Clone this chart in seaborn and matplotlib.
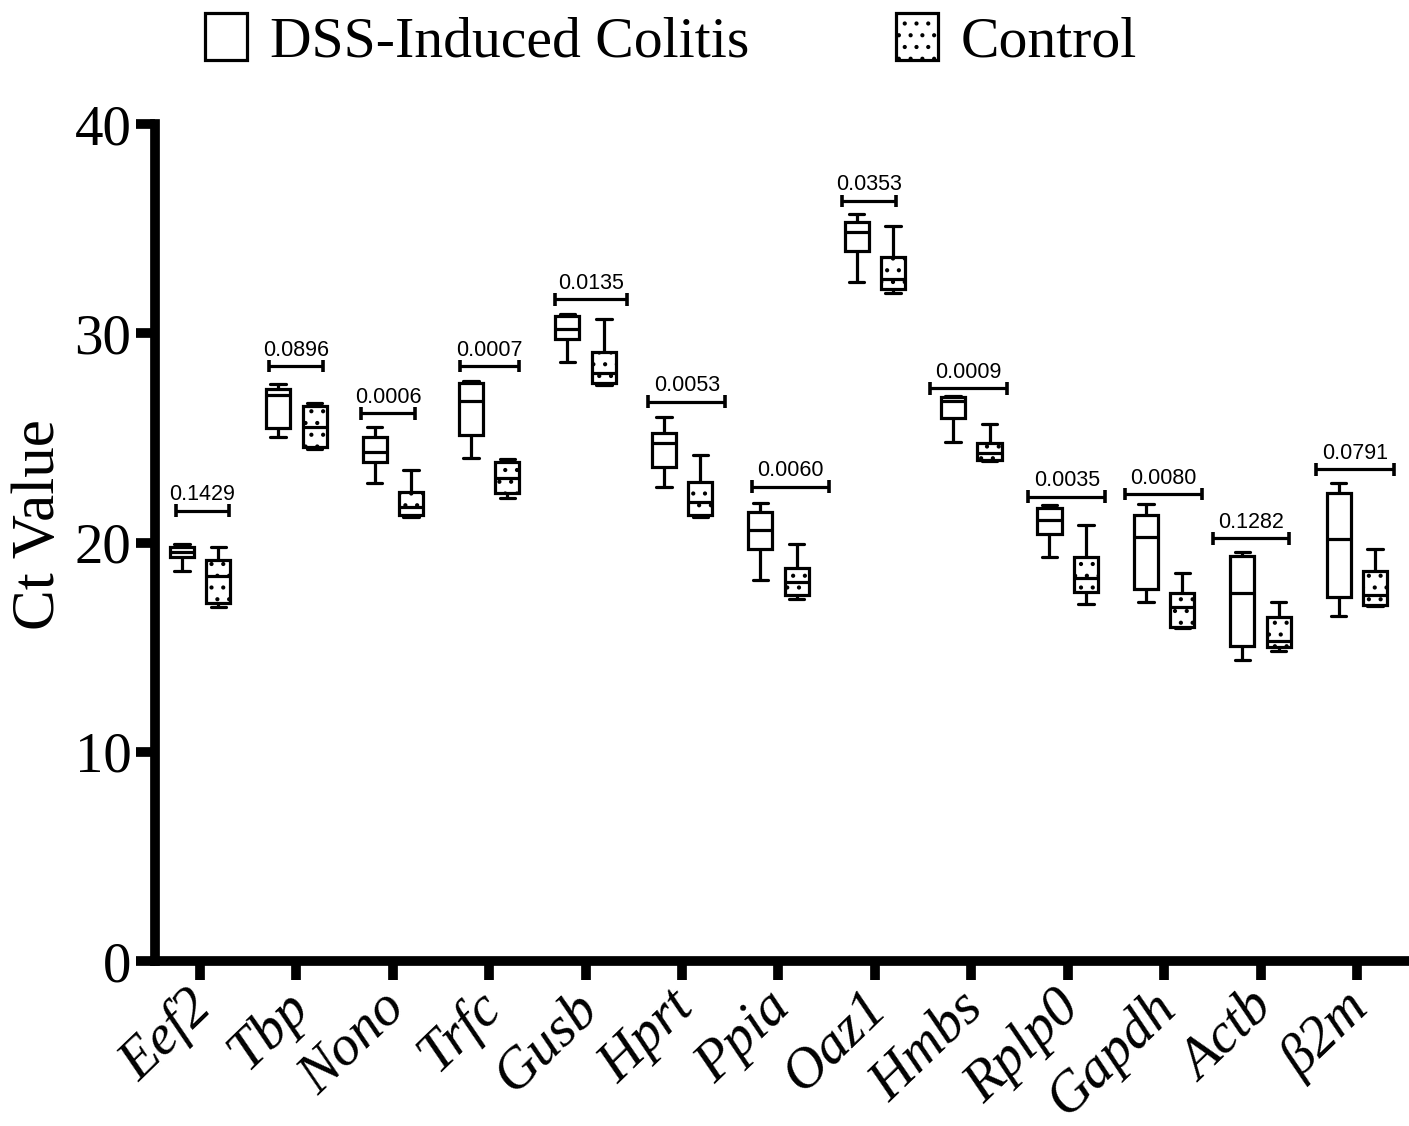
import numpy as np
import pandas as pd
import seaborn as sns
import matplotlib
matplotlib.use("Agg")
import matplotlib.pyplot as plt
from matplotlib.patches import Patch
from matplotlib.transforms import ScaledTranslation

# ------------------------------------------------------------
# data
# ------------------------------------------------------------
genes = ["Eef2", "Tbp", "Nono", "Trfc", "Gusb", "Hprt", "Ppia",
         "Oaz1", "Hmbs", "Rplp0", "Gapdh", "Actb", "β2m"]
groups = ["DSS-Induced Colitis", "Control"]

# five numbers per box: min, q1, median, q3, max
dss_ct = [
    [18.65, 19.32, 19.56, 19.80, 19.93],
    [25.03, 25.46, 27.05, 27.32, 27.60],
    [22.86, 23.86, 24.34, 25.06, 25.53],
    [24.05, 25.14, 26.76, 27.61, 27.72],
    [28.61, 29.71, 30.20, 30.85, 30.92],
    [22.67, 23.59, 24.77, 25.25, 25.98],
    [18.21, 19.69, 20.60, 21.46, 21.89],
    [32.46, 33.93, 34.85, 35.33, 35.70],
    [24.79, 25.94, 26.75, 26.97, 27.00],
    [19.29, 20.39, 21.08, 21.63, 21.79],
    [17.14, 17.78, 20.28, 21.31, 21.84],
    [14.38, 15.05, 17.57, 19.37, 19.53],
    [16.49, 17.38, 20.15, 22.38, 22.83],
]
ctrl_ct = [
    [16.90, 17.09, 18.40, 19.16, 19.77],
    [24.45, 24.58, 25.50, 26.52, 26.68],
    [21.23, 21.31, 21.71, 22.43, 23.47],
    [22.11, 22.38, 23.10, 23.86, 23.98],
    [27.53, 27.64, 28.09, 29.09, 30.68],
    [21.23, 21.31, 21.95, 22.91, 24.18],
    [17.30, 17.49, 18.11, 18.78, 19.93],
    [31.91, 32.10, 32.60, 33.66, 35.13],
    [23.90, 23.94, 24.26, 24.77, 25.66],
    [17.06, 17.65, 18.29, 19.32, 20.84],
    [15.90, 15.95, 16.93, 17.57, 18.56],
    [14.83, 15.02, 15.30, 16.43, 17.17],
    [16.95, 17.01, 17.50, 18.65, 19.69],
]

p_values = ["0.1429", "0.0896", "0.0006", "0.0007", "0.0135", "0.0053", "0.0060",
            "0.0353", "0.0009", "0.0035", "0.0080", "0.1282", "0.0791"]
bracket_ct = [21.52, 28.43, 26.17, 28.43, 31.62, 26.73, 22.67,
              36.33, 27.37, 22.19, 22.32, 20.20, 23.50]
# bracket ends relative to the gene tick
bracket_left = [-0.25, -0.28, -0.33, -0.30, -0.32, -0.35, -0.27,
                -0.34, -0.43, -0.41, -0.41, -0.49, -0.42]
bracket_right = [0.30, 0.28, 0.23, 0.31, 0.43, 0.45, 0.52,
                 0.22, 0.37, 0.39, 0.39, 0.30, 0.38]

# long table for seaborn
rows = []
for g, d, c in zip(genes, dss_ct, ctrl_ct):
    for v in d:
        rows.append((g, groups[0], v))
    for v in c:
        rows.append((g, groups[1], v))
df = pd.DataFrame(rows, columns=["gene", "group", "ct"])

# ------------------------------------------------------------
# style
# ------------------------------------------------------------
# the figure is drawn at 141 dpi so the '..' hatch gets the right dot spacing;
# k converts sizes chosen for 100 dpi
DPI = 141
k = 100 / DPI

sns.set_style("ticks")
plt.rcParams["font.family"] = ["Liberation Serif", "DejaVu Serif"]
plt.rcParams["hatch.linewidth"] = 1.3 * k
for key in ["text.color", "axes.edgecolor", "axes.labelcolor", "xtick.color", "ytick.color"]:
    plt.rcParams[key] = "black"

fig = plt.figure(figsize=(1409 / DPI, 1126 / DPI), dpi=DPI)
ax = fig.add_axes([0.110, 0.1465, 0.890, 0.7433])

lw = 2.3 * k
sns.boxplot(data=df, x="gene", y="ct", hue="group", order=genes, hue_order=groups,
            palette={groups[0]: "white", groups[1]: "white"}, saturation=1,
            linecolor="black", linewidth=lw, width=0.756, gap=0.34,
            whis=(0, 100), legend=False, capwidths=0.16, ax=ax)

# dotted fill for the control boxes
for patch in ax.patches:
    xs = patch.get_path().vertices[:, 0]
    cx = (xs.min() + xs.max()) / 2
    if cx - round(cx) > 0:
        patch.set_hatch("..")

# p value brackets
for i, (p, y, l, r) in enumerate(zip(p_values, bracket_ct, bracket_left, bracket_right)):
    ax.plot([i + l, i + r], [y, y], color="black", lw=lw, solid_capstyle="butt")
    for e in (l, r):
        ax.plot([i + e, i + e], [y - 0.3, y + 0.3], color="black", lw=2.6 * k,
                solid_capstyle="butt")
    ax.annotate(p, xy=(i + (l + r) / 2, y), xytext=(0, 7.5 * k), textcoords="offset points",
                ha="center", va="baseline", fontsize=15.5 * k, family="Liberation Sans")

# axes
ax.set_xlim(-0.467, 12.54)
ax.set_ylim(0, 40)
ax.set_yticks([0, 10, 20, 30, 40])
ax.set_xlabel("")
ax.set_ylabel("")
sns.despine(ax=ax)
for s in ["left", "bottom"]:
    ax.spines[s].set_linewidth(7 * k)
ax.tick_params(width=7 * k, length=14 * k, color="black")
ax.tick_params(axis="y", labelsize=41 * k, pad=3 * k)
ax.tick_params(axis="x", pad=3 * k)
ax.set_xticks(range(len(genes)))
ax.set_xticklabels(genes, rotation=44, ha="right", va="top", rotation_mode="anchor",
                   fontstyle="italic", fontsize=41 * k)
shift = ScaledTranslation(-10 * k / 72, 2.5 * k / 72, fig.dpi_scale_trans)
for lbl in ax.get_xticklabels():
    lbl.set_transform(lbl.get_transform() + shift)

fig.text(39 / 1409, 1 - 525 / 1126, "Ct Value", rotation=90, ha="center", va="center",
         fontsize=44 * k)

# legend on top
handles = [Patch(facecolor="white", edgecolor="black", lw=lw),
           Patch(facecolor="white", edgecolor="black", lw=lw, hatch="..")]
fig.legend(handles, groups, loc="upper left", bbox_to_anchor=(205 / 1409, 1 - 13 / 1126),
           ncol=2, frameon=False, fontsize=41.5 * k, handlelength=0.73, handleheight=0.87,
           handletextpad=0.4, columnspacing=2.54, borderpad=0, borderaxespad=0)

fig.savefig("out.png", dpi=DPI)
